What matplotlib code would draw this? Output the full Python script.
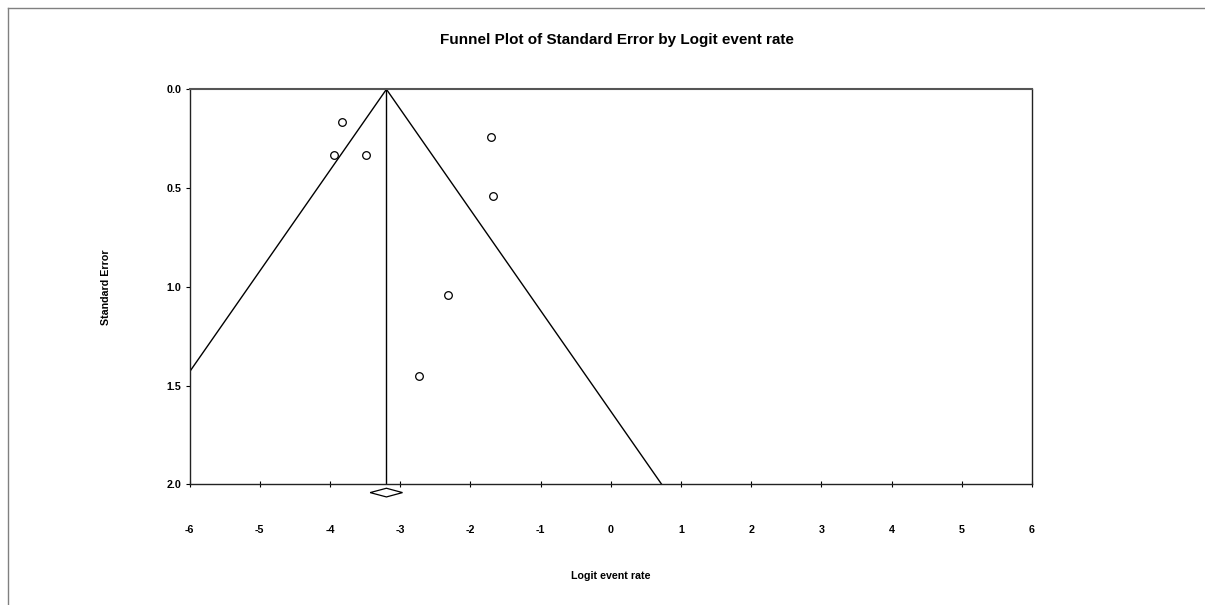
import matplotlib
matplotlib.use("Agg")
import matplotlib.pyplot as plt
from matplotlib.lines import Line2D
import numpy as np

plt.rcParams['font.family'] = ['Liberation Sans', 'DejaVu Sans']

# Study data (logit event rate, standard error)
logit_rate = [-3.83, -3.94, -3.48, -1.71, -1.68, -2.32, -2.73]
std_error = [0.164, 0.332, 0.332, 0.244, 0.540, 1.040, 1.452]

# Summary effect and its confidence interval
summary = -3.195
ci_low, ci_high = -3.427, -2.966

x_ticks = [-6, -5, -4, -3, -2, -1, 0, 1, 2, 3, 4, 5, 6]
y_ticks = [0.0, 0.5, 1.0, 1.5, 2.0]

fig = plt.figure(figsize=(12.05, 6.05), dpi=100)
ax = fig.add_axes([189.5 / 1205, 1 - 484.3 / 605, (1032 - 189.5) / 1205, (484.3 - 89.3) / 605])

# Funnel lines
se_line = np.array([0.0, 2.0])
ax.plot([summary, summary], [0, 2], color='black', lw=1)
ax.plot(summary - 1.96 * se_line, se_line, color='black', lw=1)
ax.plot(summary + 1.96 * se_line, se_line, color='black', lw=1)

# Studies
ax.plot(logit_rate, std_error, linestyle='none', marker='o', markersize=5.5,
        markerfacecolor='white', markeredgecolor='black', markeredgewidth=0.9, zorder=3)

# Summary diamond below axis
dy = 0.022
yc = 2.042
ax.fill([ci_low, summary, ci_high, summary, ci_low], [yc, yc - dy, yc, yc + dy, yc],
        facecolor='white', edgecolor='black', lw=0.9, clip_on=False, zorder=4)

ax.set_xlim(-6, 6)
ax.set_ylim(2.0, 0.0)
ax.set_xticks(x_ticks)
ax.set_xticklabels([str(t) for t in x_ticks], fontsize=7.7, fontweight='bold')
ax.set_yticks(y_ticks)
ax.set_yticklabels([f"{t:.1f}" for t in y_ticks], fontsize=7.7, fontweight='bold')
ax.tick_params(axis='x', direction='inout', length=5, width=0.8, pad=27)
ax.tick_params(axis='y', direction='out', length=3, width=0.8, pad=3)

for s in ['left', 'right', 'bottom']:
    ax.spines[s].set_color('#222222')
    ax.spines[s].set_linewidth(1)
ax.spines['top'].set_color('#555555')
ax.spines['top'].set_linewidth(1.5)

ax.set_xlabel('Logit event rate', fontsize=7.7, fontweight='bold', labelpad=26)
ax.set_ylabel('Standard Error', fontsize=7.7, fontweight='bold', labelpad=40)

fig.text(617 / 1205, 1 - 40 / 605, 'Funnel Plot of Standard Error by Logit event rate',
         ha='center', va='center', fontsize=11, fontweight='bold')

# Outer frame (top and left edges)
fig.add_artist(Line2D([8 / 1205, 1], [1 - 8 / 605, 1 - 8 / 605], color='#808080', lw=1))
fig.add_artist(Line2D([8 / 1205, 8 / 1205], [0, 1 - 8 / 605], color='#808080', lw=1))

fig.savefig('out.png', dpi=100)
